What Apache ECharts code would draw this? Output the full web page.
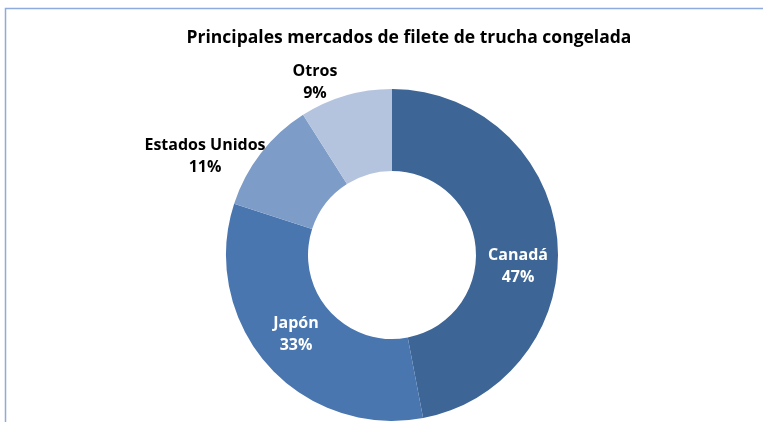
<!DOCTYPE html>
<html>
<head>
<meta charset="utf-8">
<script src="https://cdn.jsdelivr.net/npm/echarts@6/dist/echarts.min.js"></script>
<style>
  html, body { margin: 0; padding: 0; background: #fff; }
  #chart { width: 763px; height: 422px; }
</style>
</head>
<body>
<div id="chart"></div>
<script>
const markets = ['Canadá', 'Japón', 'Estados Unidos', 'Otros']
const shares = [47, 33, 11, 9]
const sliceColors = ['#3d6595', '#4a76b0', '#7e9cc8', '#b5c4de']
const labelColors = ['#fff', '#fff', '#000', '#000']
// label anchor points (px)
const labelPos = [[518, 266], [296, 334], [205, 156], [315, 82]]

const chart = echarts.init(document.getElementById('chart'))

chart.setOption({
  animation: false,
  title: {
    text: 'Principales mercados de filete de trucha congelada',
    left: 404,
    top: 24,
    textAlign: 'center',
    textStyle: { fontFamily: 'Open Sans', fontSize: 17.5, fontWeight: 'bold', color: '#000' }
  },
  graphic: [{
    type: 'rect',
    shape: { x: 5.5, y: 8.5, width: 800, height: 500 },
    style: { fill: 'none', stroke: '#8faadc', lineWidth: 1.5 },
    silent: true
  }],
  series: [{
    type: 'pie',
    center: [392, 255],
    radius: [84, 166],
    startAngle: 90,
    clockwise: true,
    data: markets.map((name, i) => ({
      name: name,
      value: shares[i],
      itemStyle: { color: sliceColors[i] },
      label: { color: labelColors[i] }
    })),
    label: {
      show: true,
      position: 'inside',
      formatter: p => p.name + '\n' + p.value + '%',
      fontFamily: 'Open Sans',
      fontSize: 16,
      fontWeight: 'bold',
      lineHeight: 22,
      align: 'center',
      verticalAlign: 'middle'
    },
    labelLine: { show: false },
    labelLayout: p => ({
      x: labelPos[p.dataIndex][0],
      y: labelPos[p.dataIndex][1],
      align: 'center',
      verticalAlign: 'middle'
    }),
    emphasis: { disabled: true }
  }]
})
</script>
</body>
</html>
